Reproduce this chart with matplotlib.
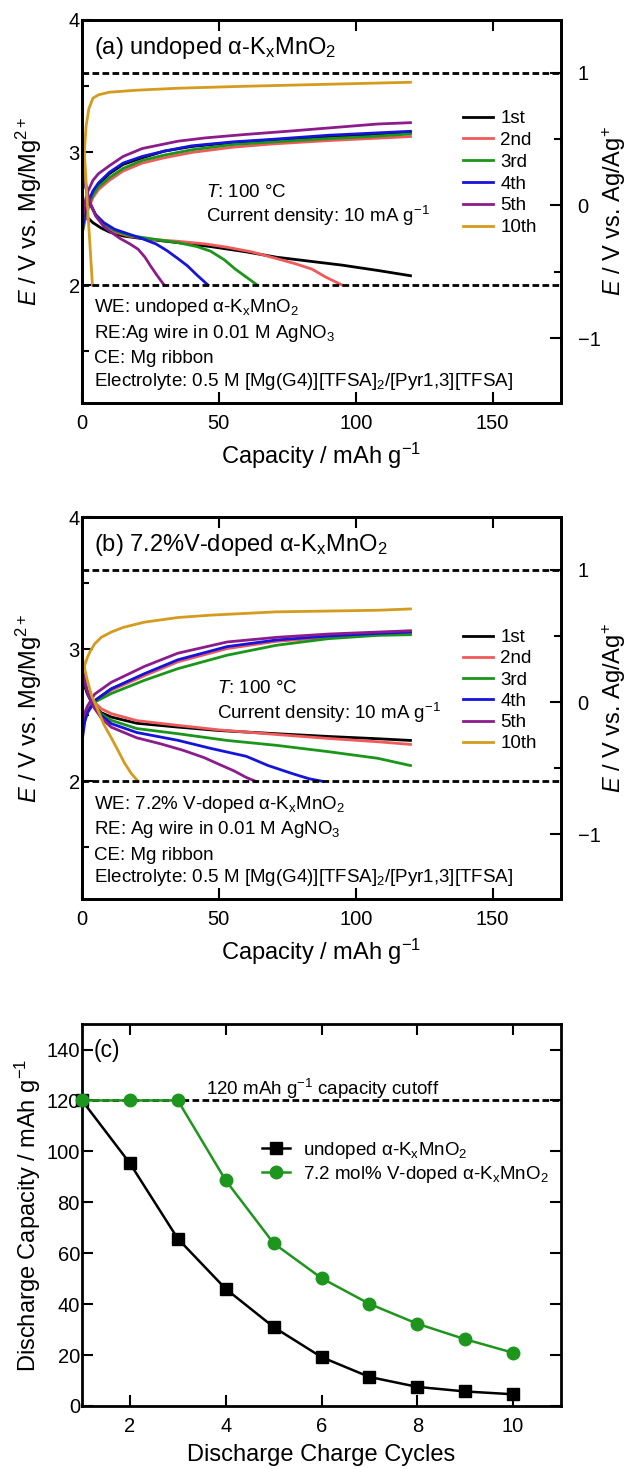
import numpy as np
import matplotlib.pyplot as plt

plt.rcParams['font.family'] = ['Liberation Sans', 'DejaVu Sans']
plt.rcParams['mathtext.fontset'] = 'custom'
plt.rcParams['mathtext.rm'] = 'Liberation Sans'
plt.rcParams['mathtext.it'] = 'Liberation Sans:italic'
plt.rcParams['mathtext.bf'] = 'Liberation Sans:bold'

cycles = ['1st', '2nd', '3rd', '4th', '5th', '10th']
colors = ['#000000', '#f05a5a', '#1a961a', '#1414dc', '#8c1c8c', '#d49b1e']

# (a) undoped: capacity / mAh g-1, E / V vs. Mg/Mg2+
a_charge = {
    '1st': [(0, 2.40), (1, 2.52), (2, 2.60), (4, 2.70), (6, 2.76), (10, 2.84), (15, 2.91), (22, 2.96),
            (30, 3.01), (40, 3.045), (55, 3.075), (70, 3.095), (90, 3.12), (105, 3.135), (120, 3.15)],
    '2nd': [(0, 2.38), (1, 2.48), (2, 2.56), (4, 2.66), (6, 2.72), (10, 2.79), (15, 2.86), (22, 2.92),
            (30, 2.96), (40, 3.0), (55, 3.04), (70, 3.065), (90, 3.09), (105, 3.105), (120, 3.12)],
    '3rd': [(0, 2.38), (1, 2.50), (2, 2.58), (4, 2.68), (6, 2.74), (10, 2.81), (15, 2.88), (22, 2.94),
            (30, 2.98), (40, 3.02), (55, 3.06), (70, 3.08), (90, 3.105), (105, 3.12), (120, 3.14)],
    '4th': [(0, 2.40), (1, 2.53), (2, 2.61), (4, 2.71), (6, 2.77), (10, 2.85), (15, 2.92), (22, 2.97),
            (30, 3.01), (40, 3.05), (55, 3.08), (70, 3.10), (90, 3.13), (105, 3.145), (120, 3.16)],
    '5th': [(0, 2.45), (1, 2.62), (2, 2.70), (4, 2.79), (6, 2.84), (10, 2.90), (15, 2.97), (22, 3.03),
            (35, 3.085), (45, 3.11), (59, 3.135), (75, 3.16), (90, 3.185), (108, 3.215), (120, 3.225)],
    '10th': [(0, 2.60), (0.5, 2.85), (1, 3.05), (1.5, 3.20), (2.5, 3.33), (4, 3.41), (6, 3.435), (10, 3.455),
             (20, 3.47), (35, 3.485), (60, 3.50), (90, 3.515), (120, 3.53)],
}
a_discharge = {
    '1st': [(0, 2.60), (1, 2.55), (2, 2.51), (4, 2.47), (7, 2.43), (10, 2.40), (15, 2.37), (22, 2.35),
            (35, 2.32), (47, 2.29), (60, 2.25), (71, 2.21), (85, 2.175), (95, 2.15), (108, 2.11), (120, 2.07)],
    '2nd': [(0, 2.90), (1, 2.78), (2, 2.68), (3, 2.61), (5, 2.53), (8, 2.46), (12, 2.40), (17, 2.37),
            (25, 2.345), (35, 2.33), (45, 2.31), (53, 2.285), (62, 2.25), (71, 2.20), (78, 2.16),
            (84, 2.12), (89, 2.06), (95, 2.0)],
    '3rd': [(0, 2.90), (1, 2.78), (2, 2.68), (3, 2.61), (5, 2.53), (8, 2.46), (12, 2.41), (17, 2.375),
            (25, 2.35), (35, 2.32), (42, 2.29), (47, 2.255), (52, 2.19), (56, 2.12), (60, 2.06), (64, 2.0)],
    '4th': [(0, 2.90), (1, 2.78), (2, 2.68), (3, 2.61), (5, 2.53), (8, 2.47), (12, 2.42), (17, 2.385),
            (22, 2.35), (27, 2.31), (31, 2.26), (35, 2.20), (38.5, 2.145), (42, 2.075), (46, 2.0)],
    '5th': [(0, 2.92), (1, 2.80), (2, 2.70), (3, 2.62), (5, 2.52), (8, 2.44), (10.5, 2.40), (14, 2.35),
            (17.5, 2.31), (20.5, 2.27), (23, 2.21), (25, 2.145), (27.5, 2.07), (30, 2.0)],
    '10th': [(0, 3.2), (1, 2.95), (2, 2.6), (3, 2.27), (3.8, 2.0)],
}

# (b) 7.2% V-doped
b_charge = {
    '1st': [(0, 2.40), (1, 2.48), (2, 2.53), (4.6, 2.61), (10.7, 2.70), (22.8, 2.81), (35, 2.91), (53, 3.01),
            (71, 3.065), (90, 3.095), (108, 3.115), (120, 3.125)],
    '2nd': [(0, 2.35), (1, 2.46), (2, 2.52), (4.6, 2.60), (10.7, 2.69), (22.8, 2.80), (35, 2.905), (53, 3.005),
            (71, 3.06), (90, 3.09), (108, 3.11), (120, 3.12)],
    '3rd': [(0, 2.40), (1, 2.48), (2, 2.53), (4.6, 2.60), (10.7, 2.665), (22.8, 2.765), (35, 2.853),
            (53, 2.955), (71, 3.03), (90, 3.08), (108, 3.105), (120, 3.11)],
    '4th': [(0, 2.30), (1, 2.45), (2, 2.52), (4.6, 2.61), (10.7, 2.70), (22.8, 2.815), (35, 2.92), (53, 3.02),
            (71, 3.07), (90, 3.10), (108, 3.12), (120, 3.13)],
    '5th': [(0, 2.45), (1, 2.52), (2, 2.57), (4.6, 2.66), (10.7, 2.75), (22.8, 2.87), (35, 2.97), (53, 3.055),
            (71, 3.09), (90, 3.115), (108, 3.13), (120, 3.14)],
    '10th': [(0, 2.78), (0.5, 2.84), (1, 2.88), (2, 2.94), (3, 2.985), (4.6, 3.04), (7, 3.09), (10.7, 3.13),
             (15, 3.165), (22.8, 3.205), (35, 3.24), (47, 3.258), (71, 3.283), (108, 3.295), (120, 3.305)],
}
b_discharge = {
    '1st': [(0, 2.80), (1, 2.72), (2, 2.66), (4, 2.58), (7, 2.52), (10.7, 2.487), (20, 2.44), (35, 2.411),
            (50, 2.385), (71, 2.361), (90, 2.34), (108, 2.323), (120, 2.31)],
    '2nd': [(0, 2.85), (1, 2.76), (2, 2.69), (4, 2.61), (7, 2.55), (10.7, 2.513), (20, 2.46), (35, 2.424),
            (50, 2.39), (71, 2.355), (90, 2.325), (108, 2.30), (120, 2.28)],
    '3rd': [(0, 2.85), (1, 2.75), (2, 2.68), (4, 2.59), (7, 2.51), (10.7, 2.462), (20, 2.40), (35, 2.361),
            (53, 2.31), (71, 2.273), (90, 2.225), (108, 2.175), (120, 2.12)],
    '4th': [(0, 2.85), (1, 2.75), (2, 2.67), (4, 2.58), (7, 2.50), (10.7, 2.437), (20, 2.37), (35, 2.311),
            (47, 2.25), (60, 2.19), (68, 2.12), (77, 2.058), (83, 2.02), (88, 2.0)],
    '5th': [(0, 2.88), (1, 2.76), (2, 2.67), (4, 2.57), (7, 2.48), (10.7, 2.41), (20, 2.33), (28.6, 2.285),
            (37, 2.235), (44.6, 2.18), (50, 2.13), (55.5, 2.08), (60, 2.03), (63.5, 2.0)],
    '10th': [(0, 2.95), (1, 2.85), (2, 2.76), (3.5, 2.65), (5.8, 2.54), (8, 2.43), (10.7, 2.33), (13, 2.24),
             (15.5, 2.14), (18, 2.06), (20.5, 2.0)],
}

# (c) discharge capacity per cycle
cycle_no = [1, 2, 3, 4, 5, 6, 7, 8, 9, 10]
undoped_cap = [120, 95.3, 65.7, 46, 31, 19.2, 11.4, 7.5, 5.7, 4.6]
doped_cap = [120, 120, 120, 88.6, 63.9, 50.2, 40.1, 32.3, 26.2, 20.9]

green_c = '#1e961e'
dash = (2.4, 1.2)
fig = plt.figure(figsize=(6.26, 14.69), dpi=100)


def style_spines(ax):
    for s in ax.spines.values():
        s.set_linewidth(2)


def voltage_panel(rect, charge, discharge, title, we, re_txt, txt_x):
    ax = fig.add_axes(rect)
    for c, col in zip(cycles, colors):
        q, v = np.array(charge[c]).T
        ax.plot(q, v, color=col, lw=2, label=c)
        q, v = np.array(discharge[c]).T
        ax.plot(q, v, color=col, lw=2)
    ax.axhline(3.6, color='k', lw=2, dashes=dash)
    ax.axhline(2.0, color='k', lw=2, dashes=dash)
    ax.set_xlim(0, 175)
    ax.set_ylim(1.11, 4.0)
    ax.set_xticks([0, 50, 100, 150])
    ax.set_yticks([2, 3, 4])
    ax.set_yticks([1.5, 2.5, 3.5], minor=True)
    ax.tick_params(which='both', direction='in', top=True, right=False, width=1.5, labelsize=14.5)
    ax.tick_params(which='major', length=8)
    ax.tick_params(which='minor', length=5)
    ax.tick_params(axis='x', pad=8)
    ax.tick_params(axis='y', pad=1.5)
    ax.set_xlabel(r'Capacity / mAh g$^{-1}$', fontsize=17)
    ax.xaxis.set_label_coords(0.5, -0.1)
    ax.set_ylabel(r'$\mathit{E}$ / V vs. Mg/Mg$^{2+}$', fontsize=17)
    ax.yaxis.set_label_coords(-0.08, 0.5)
    style_spines(ax)

    ax2 = ax.twinx()
    ax2.set_ylim(1.11 - 2.6, 4.0 - 2.6)
    ax2.set_yticks([-1, 0, 1])
    ax2.set_yticks([-0.5, 0.5], minor=True)
    ax2.tick_params(which='both', direction='in', width=1.5, labelsize=14.5, pad=12)
    ax2.tick_params(which='major', length=8)
    ax2.tick_params(which='minor', length=5)
    ax2.set_ylabel(r'$\mathit{E}$ / V vs. Ag/Ag$^{+}$', fontsize=17)
    ax2.yaxis.set_label_coords(1.082, 0.5)
    style_spines(ax2)

    ax.text(0.025, 0.935, title, transform=ax.transAxes, fontsize=17, va='center_baseline')
    ax.text(txt_x, 0.556, r'$\mathit{T}$: 100 °C', transform=ax.transAxes, fontsize=13.5,
            va='center_baseline')
    ax.text(txt_x, 0.496, r'Current density: 10 mA g$^{-1}$', transform=ax.transAxes, fontsize=13.5,
            va='center_baseline')
    notes = [we, re_txt, 'CE: Mg ribbon', r'Electrolyte: 0.5 M [Mg(G4)][TFSA]$_2$/[Pyr1,3][TFSA]']
    for t, y in zip(notes, [0.256, 0.19, 0.12, 0.064]):
        ax.text(0.025, y, t, transform=ax.transAxes, fontsize=13.5, va='center_baseline')
    return ax


ax_a = voltage_panel([0.131, 0.7257, 0.7652, 0.2607], a_charge, a_discharge,
                     r'(a) undoped α-K$_\mathrm{x}$MnO$_2$',
                     r'WE: undoped α-K$_\mathrm{x}$MnO$_2$', r'RE:Ag wire in 0.01 M AgNO$_3$', 0.259)
ax_a.legend(loc='upper left', bbox_to_anchor=(0.795, 0.765), frameon=False, fontsize=13.5,
            handlelength=1.6, handletextpad=0.4, labelspacing=0.25, borderpad=0, borderaxespad=0)

ax_b = voltage_panel([0.131, 0.3880, 0.7652, 0.2600], b_charge, b_discharge,
                     r'(b) 7.2%V-doped α-K$_\mathrm{x}$MnO$_2$',
                     r'WE: 7.2% V-doped α-K$_\mathrm{x}$MnO$_2$', r'RE: Ag wire in 0.01 M AgNO$_3$', 0.282)
ax_b.legend(loc='upper left', bbox_to_anchor=(0.795, 0.707), frameon=False, fontsize=13.5,
            handlelength=1.6, handletextpad=0.4, labelspacing=0.22, borderpad=0, borderaxespad=0)

# (c) capacity vs cycles
ax = fig.add_axes([0.131, 0.0429, 0.7652, 0.2600])
ax.axhline(120, color='k', lw=2, dashes=dash)
ax.plot(cycle_no, undoped_cap, '-s', color='k', lw=1.8, ms=9, clip_on=False, zorder=3,
        label=r'undoped α-K$_\mathrm{x}$MnO$_2$')
ax.plot(cycle_no, doped_cap, '-o', color=green_c, lw=1.8, ms=9, clip_on=False, zorder=4,
        label=r'7.2 mol% V-doped α-K$_\mathrm{x}$MnO$_2$')
ax.set_xlim(1, 11)
ax.set_ylim(0, 150)
ax.set_xticks([2, 4, 6, 8, 10])
ax.set_yticks(np.arange(0, 141, 20))
ax.tick_params(direction='in', top=True, right=True, length=8, width=1.5, labelsize=14.5)
ax.tick_params(axis='x', pad=8)
ax.tick_params(axis='y', pad=1.5)
ax.set_xlabel('Discharge Charge Cycles', fontsize=17)
ax.xaxis.set_label_coords(0.5, -0.1)
ax.set_ylabel(r'Discharge Capacity / mAh g$^{-1}$', fontsize=17)
ax.yaxis.set_label_coords(-0.082, 0.5)
style_spines(ax)
ax.text(0.025, 0.937, '(c)', transform=ax.transAxes, fontsize=16.5, va='center_baseline')
ax.text(0.259, 0.838, r'120 mAh g$^{-1}$ capacity cutoff', transform=ax.transAxes, fontsize=13.5,
        va='center_baseline')
ax.legend(loc='upper left', bbox_to_anchor=(0.376, 0.697), frameon=False, fontsize=13.5,
          handlelength=1.5, handletextpad=0.7, labelspacing=0.15, borderpad=0, borderaxespad=0)

plt.savefig('out.png', dpi=100)
